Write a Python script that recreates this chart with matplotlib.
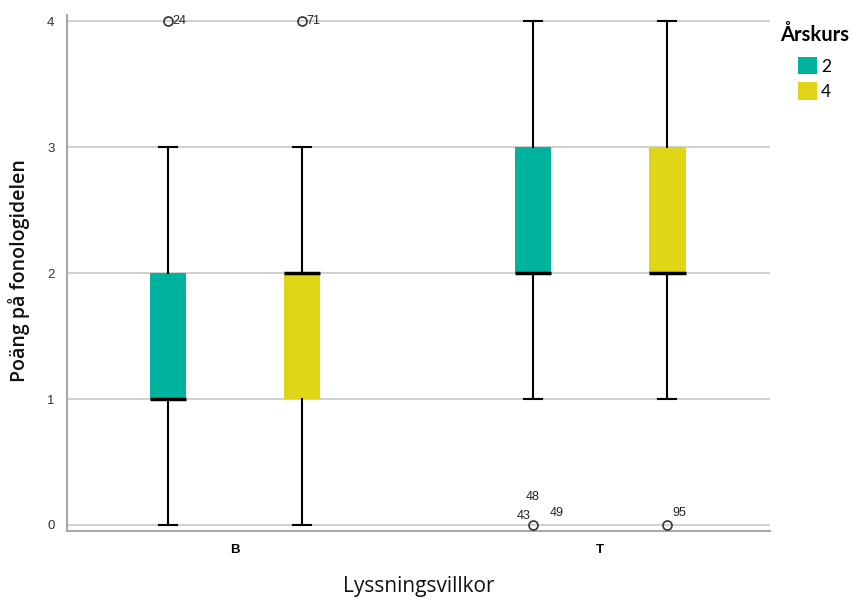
import matplotlib
matplotlib.use("Agg")
import matplotlib.pyplot as plt
from matplotlib.patches import Patch

# Data
categories = ["B", "T"]
grades = ["2", "4"]
colors = ["#00B39E", "#E0D516"]
# stats per [category][grade]
q1 = [[1, 1], [2, 2]]
med = [[1, 2], [2, 2]]
q3 = [[2, 2], [3, 3]]
whislo = [[0, 0], [1, 1]]
whishi = [[3, 3], [4, 4]]
outlier_vals = [[[4], [4]], [[0], [0]]]
outlier_labels = [[["24"], ["71"]], [["43", "48", "49"], ["95"]]]

fig = plt.figure(figsize=(8.54, 5.99), dpi=100)
ax = fig.add_axes([0.0785, 0.1135, 0.823, 0.8614])

offset = 0.184
width = 0.1
for ci, cat in enumerate(categories):
    for gi, g in enumerate(grades):
        pos = ci + (gi - 0.5) * 2 * offset
        stats = [dict(q1=q1[ci][gi], med=med[ci][gi], q3=q3[ci][gi],
                      whislo=whislo[ci][gi], whishi=whishi[ci][gi],
                      fliers=outlier_vals[ci][gi])]
        ax.bxp(stats, positions=[pos], widths=width, patch_artist=True,
               showfliers=True,
               boxprops=dict(facecolor=colors[gi], edgecolor="none", linewidth=0),
               medianprops=dict(color="black", linewidth=2.5, solid_capstyle="butt"),
               whiskerprops=dict(color="black", linewidth=1.5),
               capprops=dict(color="black", linewidth=1.5),
               capwidths=width * 0.5,
               flierprops=dict(marker="o", markersize=6.5, markerfacecolor="none",
                               markeredgecolor="#333333", markeredgewidth=1.2),
               manage_ticks=False, zorder=3)

# outlier labels
lab_style = dict(fontsize=9, family="Liberation Sans", color="#222222")
def px(dx, dy):
    return dict(textcoords="offset points", xytext=(dx, dy))
pos_B2 = 0 - offset
pos_B4 = 0 + offset
pos_T2 = 1 - offset
pos_T4 = 1 + offset
ax.annotate(outlier_labels[0][0][0], (pos_B2, outlier_vals[0][0][0]), ha="left", va="bottom", **px(3, -4), **lab_style)
ax.annotate(outlier_labels[0][1][0], (pos_B4, outlier_vals[0][1][0]), ha="left", va="bottom", **px(3, -4), **lab_style)
ax.annotate(outlier_labels[1][0][0], (pos_T2, outlier_vals[1][0][0]), ha="right", va="bottom", **px(-2, 2), **lab_style)
ax.annotate(outlier_labels[1][0][1], (pos_T2, outlier_vals[1][0][0]), ha="center", va="bottom", **px(0, 16), **lab_style)
ax.annotate(outlier_labels[1][0][2], (pos_T2, outlier_vals[1][0][0]), ha="left", va="bottom", **px(12, 4), **lab_style)
ax.annotate(outlier_labels[1][1][0], (pos_T4, outlier_vals[1][1][0]), ha="left", va="bottom", **px(4, 4), **lab_style)

ax.set_xlim(-0.46, 1.465)
ax.set_ylim(-0.048, 4.05)
ax.set_xticks(range(len(categories)))
ax.set_xticklabels(categories, fontsize=9.5, fontweight="bold", family="Liberation Sans")
ax.set_yticks([0, 1, 2, 3, 4])
ax.set_yticklabels(["0", "1", "2", "3", "4"], fontsize=9.5, family="Liberation Sans", color="#333333")
ax.tick_params(axis="both", length=0)
ax.tick_params(axis="y", pad=9)
ax.tick_params(axis="x", pad=9)
ax.yaxis.grid(True, color="#C8C8C8", linewidth=1.2, zorder=0)
ax.set_axisbelow(True)
for s in ["top", "right"]:
    ax.spines[s].set_visible(False)
for s in ["left", "bottom"]:
    ax.spines[s].set_color("#A8A8A8")
    ax.spines[s].set_linewidth(1.5)

ax.set_xlabel("Lyssningsvillkor", fontsize=15, family="Open Sans", color="#111111")
ax.xaxis.set_label_coords(0.5, -0.088)
ax.set_ylabel("Poäng på fonologidelen", fontsize=14, family="Open Sans", fontweight="semibold", color="#111111")
ax.yaxis.set_label_coords(-0.053, 0.505)

handles = [Patch(facecolor=c, edgecolor="none") for c in colors]
leg = fig.legend(handles, grades, loc="upper left", bbox_to_anchor=(0.895, 0.985),
                 title="Årskurs", frameon=False,
                 title_fontproperties=dict(family="Lato", weight="bold", size=14.5),
                 handlelength=1.1, handleheight=1.15, handletextpad=0.25,
                 labelspacing=0.45, prop=dict(family="Lato", size=12.5))
leg._legend_box.sep = 9
fig.savefig("out.png", dpi=100)
